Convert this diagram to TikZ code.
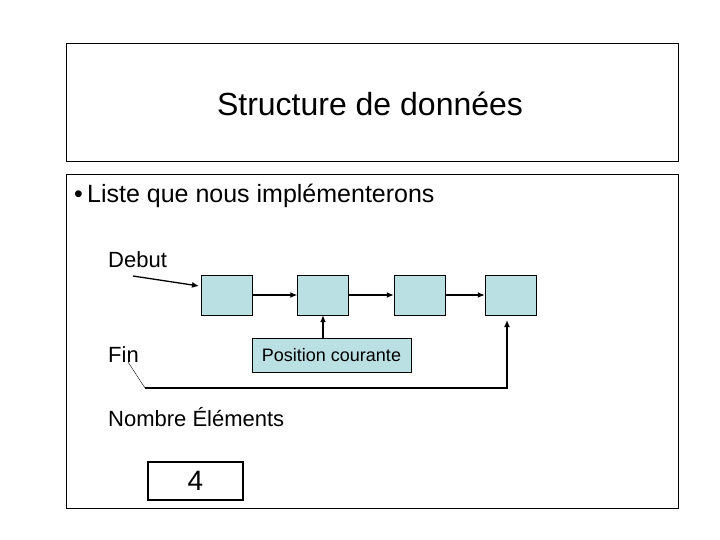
\documentclass[tikz,border=0pt]{standalone}
\usepackage{fontspec}
\setmainfont{Liberation Sans}
\usetikzlibrary{arrows.meta}
\begin{document}
\begin{tikzpicture}[x=1pt,y=-1pt,
  cell/.style={draw,fill=boxc,minimum width=51pt,minimum height=40pt,inner sep=0pt},
  arr/.style={-{Latex[length=7pt,width=6pt]},line width=1.3pt},
  lbl/.style={anchor=west,font=\fontsize{22}{24}\selectfont,inner sep=0pt}]
\definecolor{boxc}{RGB}{187,224,227}
\useasboundingbox (0,0) rectangle (720,540);
\node[draw,minimum width=612pt,minimum height=118pt,inner sep=0pt] (title) at (372,102) {};
\node[font=\fontsize{32}{34}\selectfont] (tt) at (370,104) {Structure de données};
\node[draw,minimum width=612pt,minimum height=334pt,inner sep=0pt] (body) at (372,341) {};
\node[anchor=west,font=\fontsize{25}{27}\selectfont,inner sep=0pt] (bul) at (74,196) {•\,Liste que nous implémenterons};
\node[lbl] (debut) at (108,260) {Debut};
\node[lbl] (fin) at (108,355) {Fin};
\node[lbl] (nb) at (108,417) {Nombre Éléments};
\node[draw,line width=1.5pt,minimum width=95pt,minimum height=38pt,inner sep=0pt,font=\fontsize{28}{30}\selectfont] (four) at (195.5,481) {4};
\node[cell] (c1) at (226.5,295) {};
\node[cell] (c2) at (323,295) {};
\node[cell] (c3) at (419.5,295) {};
\node[cell] (c4) at (510.5,295) {};
\node[draw,fill=boxc,minimum width=159pt,minimum height=34pt,inner sep=0pt,font=\fontsize{18}{20}\selectfont] (pos) at (331.5,355) {Position courante};
\draw[arr] (c1) -- (c2);
\draw[arr] (c2) -- (c3);
\draw[arr] (c3) -- (c4);
\draw[arr] (pos.north -| c2) -- (c2.south);
\coordinate (d0) at (133,276);
\coordinate (d1) at (199,286);
\draw[arr] (d0) -- (d1);
\coordinate (f0) at (128,362);
\coordinate (f1) at (145,388);
\coordinate (f2) at (507,388);
\coordinate (f3) at (507,320);
\draw[thin] (f0) -- (f1);
\draw[arr] (f1) -- (f2) -- (f3);
\end{tikzpicture}
\end{document}
